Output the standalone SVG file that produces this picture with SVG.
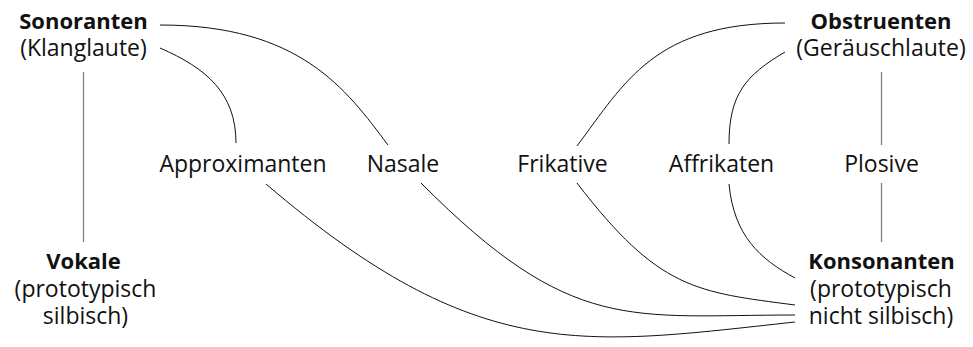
<svg xmlns="http://www.w3.org/2000/svg" width="973" height="347" viewBox="0 0 973 347">
<style>
text{font-family:"Open Sans","Noto Sans","DejaVu Sans",sans-serif;font-size:23px;fill:#111;text-anchor:middle}
text.b{font-weight:bold;font-size:22px}
.c{fill:none;stroke:#111;stroke-width:1}
.v{fill:none;stroke:#808080;stroke-width:1.3}
</style>
<rect width="973" height="347" fill="#fff"/>
<g id="connectors">
<line class="v" x1="83.5" y1="72" x2="83.5" y2="242"/>
<line class="v" x1="881.5" y1="72" x2="881.5" y2="145"/>
<line class="v" x1="881.5" y1="183" x2="881.5" y2="242"/>
<path class="c" d="M160,25 C300,25 346,89 388,145"/>
<path class="c" d="M160,48 C206,68 236,93 236,143"/>
<path class="c" d="M785,23 C655,23 625,82 577,146"/>
<path class="c" d="M785,52 C746,75 729,94 729,144"/>
<path class="c" d="M266,184 C479,366 583,345 795,322"/>
<path class="c" d="M421,183 C572,335 630,315 795,315"/>
<path class="c" d="M577,183 C659,290 696,292 795,305"/>
<path class="c" d="M729,184 C734,236 760,259 795,278"/>
</g>
<g id="sonoranten"><text class="b" x="83.5" y="29">Sonoranten</text><text x="83.5" y="56">(Klanglaute)</text></g>
<g id="obstruenten"><text class="b" x="881" y="29">Obstruenten</text><text x="881" y="56">(Geräuschlaute)</text></g>
<g id="approximanten"><text x="243" y="172">Approximanten</text></g>
<g id="nasale"><text x="403" y="172">Nasale</text></g>
<g id="frikative"><text x="562.5" y="172">Frikative</text></g>
<g id="affrikaten"><text x="721.5" y="172">Affrikaten</text></g>
<g id="plosive"><text x="881.5" y="172">Plosive</text></g>
<g id="vokale"><text class="b" x="83.5" y="269">Vokale</text><text x="85.5" y="296.5">(prototypisch</text><text x="85.5" y="324">silbisch)</text></g>
<g id="konsonanten"><text class="b" x="881.5" y="269">Konsonanten</text><text x="881" y="296.5">(prototypisch</text><text x="881" y="324">nicht silbisch)</text></g>
</svg>
